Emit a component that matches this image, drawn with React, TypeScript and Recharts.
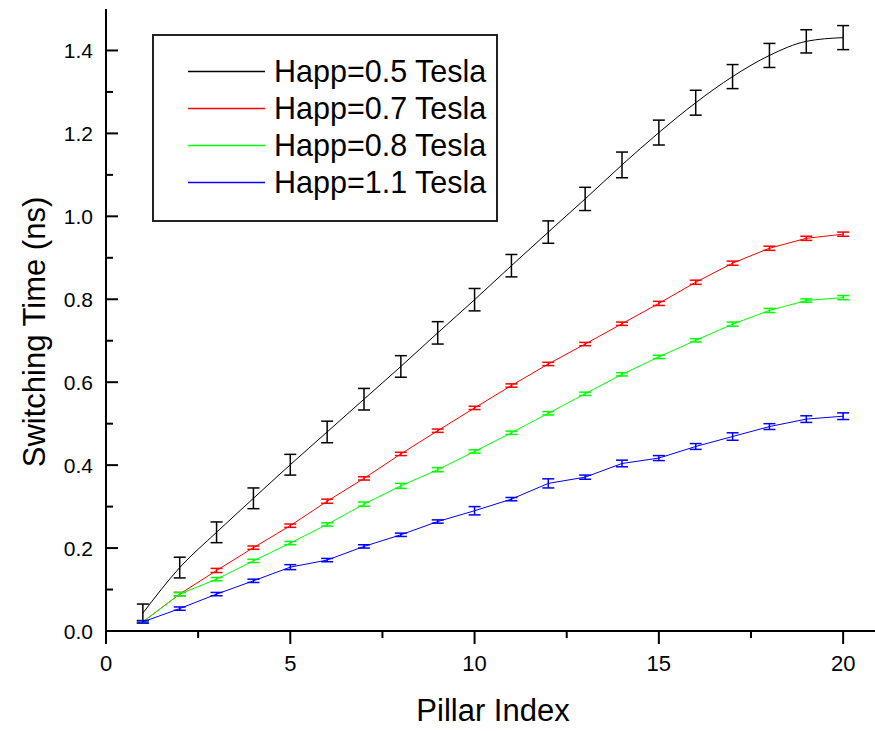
import React from "react";
import { ErrorBar, Legend, Line, LineChart, XAxis, YAxis } from "recharts";

const FONT = "Arial, 'Liberation Sans', sans-serif";

const pillars = [1, 2, 3, 4, 5, 6, 7, 8, 9, 10, 11, 12, 13, 14, 15, 16, 17, 18, 19, 20];

const happ05 = [0.043, 0.153, 0.238, 0.32, 0.401, 0.48, 0.559, 0.638, 0.719, 0.799, 0.881, 0.962, 1.042, 1.124, 1.202, 1.274, 1.337, 1.388, 1.422, 1.431];
const happ05Err = [0.022, 0.025, 0.025, 0.025, 0.025, 0.026, 0.026, 0.026, 0.027, 0.027, 0.027, 0.027, 0.028, 0.031, 0.03, 0.03, 0.029, 0.029, 0.028, 0.029];

const happ07 = [0.022, 0.089, 0.146, 0.201, 0.254, 0.313, 0.368, 0.427, 0.483, 0.538, 0.592, 0.644, 0.692, 0.741, 0.79, 0.841, 0.887, 0.923, 0.947, 0.957];
const happ07Err = [0.003, 0.004, 0.005, 0.004, 0.004, 0.005, 0.004, 0.004, 0.004, 0.004, 0.004, 0.004, 0.004, 0.004, 0.005, 0.005, 0.005, 0.005, 0.005, 0.005];

const happ08 = [0.022, 0.089, 0.125, 0.169, 0.212, 0.257, 0.306, 0.35, 0.389, 0.433, 0.478, 0.525, 0.572, 0.619, 0.661, 0.701, 0.74, 0.773, 0.797, 0.804];
const happ08Err = [0.003, 0.004, 0.004, 0.004, 0.004, 0.004, 0.005, 0.006, 0.005, 0.004, 0.004, 0.004, 0.004, 0.004, 0.004, 0.004, 0.005, 0.005, 0.004, 0.005];

const happ11 = [0.022, 0.054, 0.089, 0.121, 0.154, 0.171, 0.204, 0.232, 0.264, 0.29, 0.318, 0.356, 0.371, 0.404, 0.417, 0.445, 0.469, 0.493, 0.511, 0.518];
const happ11Err = [0.003, 0.004, 0.004, 0.004, 0.006, 0.004, 0.004, 0.004, 0.004, 0.01, 0.004, 0.011, 0.005, 0.008, 0.006, 0.007, 0.009, 0.007, 0.008, 0.008];

const xTicks = [0, 2.5, 5, 7.5, 10, 12.5, 15, 17.5, 20];
const xMajor = [0, 5, 10, 15, 20];
const yTicks = [0, 0.1, 0.2, 0.3, 0.4, 0.5, 0.6, 0.7, 0.8, 0.9, 1.0, 1.1, 1.2, 1.3, 1.4];
const yMajor = [0, 0.2, 0.4, 0.6, 0.8, 1.0, 1.2, 1.4];

const data = pillars.map((p, i) => ({
  pillar: p,
  h05: happ05[i],
  h05Err: happ05Err[i],
  h07: happ07[i],
  h07Err: happ07Err[i],
  h08: happ08[i],
  h08Err: happ08Err[i],
  h11: happ11[i],
  h11Err: happ11Err[i],
}));

const isMajor = (list: number[], v: number) => list.some((m) => Math.abs(m - v) < 1e-6);

function BottomTick({ x, y, payload }: any) {
  const major = isMajor(xMajor, payload.value);
  return (
    <g>
      <line x1={x} x2={x} y1={y} y2={y + (major ? 13 : 7)} stroke="#000" strokeWidth={2} />
      {major && (
        <text x={x} y={y + 40} textAnchor="middle" fontSize={22} fontFamily={FONT} fill="#000">
          {payload.value}
        </text>
      )}
    </g>
  );
}

function TopTick({ x, y, payload }: any) {
  const major = isMajor(xMajor, payload.value);
  return <line x1={x} x2={x} y1={y} y2={y + (major ? 13 : 7)} stroke="#000" strokeWidth={2} />;
}

function LeftTick({ x, y, payload }: any) {
  const major = isMajor(yMajor, payload.value);
  return (
    <g>
      <line x1={x} x2={x + (major ? 12 : 7)} y1={y} y2={y} stroke="#000" strokeWidth={2} />
      {major && (
        <text x={x - 13} y={y + 7.5} textAnchor="end" fontSize={21} fontFamily={FONT} fill="#000">
          {payload.value.toFixed(1)}
        </text>
      )}
    </g>
  );
}

function RightTick({ x, y, payload }: any) {
  const major = isMajor(yMajor, payload.value);
  return <line x1={x} x2={x - (major ? 12 : 7)} y1={y} y2={y} stroke="#000" strokeWidth={2} />;
}

function XTitle({ viewBox }: any) {
  return (
    <text x={viewBox.x + viewBox.width / 2} y={viewBox.y + 90} textAnchor="middle" fontSize={31} fontFamily={FONT} fill="#000">
      Pillar Index
    </text>
  );
}

function YTitle({ viewBox }: any) {
  const cx = viewBox.x + 34;
  const cy = viewBox.y + viewBox.height / 2 + 12;
  return (
    <text
      x={cx}
      y={cy}
      transform={`rotate(-90 ${cx} ${cy})`}
      textAnchor="middle"
      dominantBaseline="central"
      fontSize={31}
      fontFamily={FONT}
      fill="#000"
    >
      Switching Time (ns)
    </text>
  );
}

function LegendBox({ payload }: any) {
  return (
    <div
      style={{
        boxSizing: "border-box",
        width: 346,
        height: 188,
        border: "2px solid #222",
        background: "#fff",
        paddingTop: 17,
      }}
    >
      {(payload || []).map((p: any) => (
        <div key={p.value} style={{ display: "flex", alignItems: "center", height: 37 }}>
          <svg width={120} height={37} style={{ display: "block" }}>
            <line x1={34} x2={111} y1={18.5} y2={18.5} stroke={p.color} strokeWidth={1.5} />
          </svg>
          <span style={{ fontFamily: FONT, fontSize: 30.5, lineHeight: "37px", color: "#000", whiteSpace: "nowrap" }}>
            {p.value}
          </span>
        </div>
      ))}
    </div>
  );
}

export default function App() {
  return (
    <div style={{ position: "fixed", left: 0, top: 0, width: 875, height: 731, overflow: "hidden", background: "#fff" }}>
      <LineChart width={885} height={731} data={data} margin={{ top: 9, right: 5, bottom: 0, left: 0 }}>
        <XAxis
          dataKey="pillar"
          type="number"
          domain={[0, 21]}
          allowDataOverflow
          ticks={xTicks}
          interval={0}
          height={100}
          tickSize={0}
          tickMargin={0}
          tickLine={false}
          tick={BottomTick}
          axisLine={{ stroke: "#000", strokeWidth: 2 }}
          label={<XTitle />}
        />
        <XAxis
          xAxisId="top"
          orientation="top"
          type="number"
          domain={[0, 21]}
          allowDataOverflow
          ticks={xTicks}
          interval={0}
          height={0}
          tickSize={0}
          tickMargin={0}
          tickLine={false}
          tick={TopTick}
          axisLine={{ stroke: "#000", strokeWidth: 2 }}
        />
        <YAxis
          type="number"
          domain={[0, 1.5]}
          allowDataOverflow
          ticks={yTicks}
          interval={0}
          width={106}
          tickSize={0}
          tickMargin={0}
          tickLine={false}
          tick={LeftTick}
          axisLine={{ stroke: "#000", strokeWidth: 2 }}
          label={<YTitle />}
        />
        <YAxis
          yAxisId="right"
          orientation="right"
          type="number"
          domain={[0, 1.5]}
          allowDataOverflow
          ticks={yTicks}
          interval={0}
          width={0}
          tickSize={0}
          tickMargin={0}
          tickLine={false}
          tick={RightTick}
          axisLine={{ stroke: "#000", strokeWidth: 2 }}
        />
        <Legend
          layout="vertical"
          align="center"
          verticalAlign="middle"
          content={<LegendBox />}
          wrapperStyle={{ left: 152, top: 34, width: 346, height: 188 }}
        />
        <Line
          type="monotone"
          dataKey="h05"
          name="Happ=0.5 Tesla"
          stroke="#000000"
          strokeWidth={1}
          dot={false}
          activeDot={false}
          isAnimationActive={false}
        >
          <ErrorBar dataKey="h05Err" direction="y" width={6} stroke="#000000" strokeWidth={1.5} />
        </Line>
        <Line
          type="linear"
          dataKey="h07"
          name="Happ=0.7 Tesla"
          stroke="#ff0000"
          strokeWidth={1}
          dot={false}
          activeDot={false}
          isAnimationActive={false}
        >
          <ErrorBar dataKey="h07Err" direction="y" width={6} stroke="#ff0000" strokeWidth={1.5} />
        </Line>
        <Line
          type="linear"
          dataKey="h08"
          name="Happ=0.8 Tesla"
          stroke="#00ff00"
          strokeWidth={1}
          dot={false}
          activeDot={false}
          isAnimationActive={false}
        >
          <ErrorBar dataKey="h08Err" direction="y" width={6} stroke="#00ff00" strokeWidth={1.5} />
        </Line>
        <Line
          type="linear"
          dataKey="h11"
          name="Happ=1.1 Tesla"
          stroke="#0000ff"
          strokeWidth={1}
          dot={false}
          activeDot={false}
          isAnimationActive={false}
        >
          <ErrorBar dataKey="h11Err" direction="y" width={6} stroke="#0000ff" strokeWidth={1.5} />
        </Line>
      </LineChart>
    </div>
  );
}
